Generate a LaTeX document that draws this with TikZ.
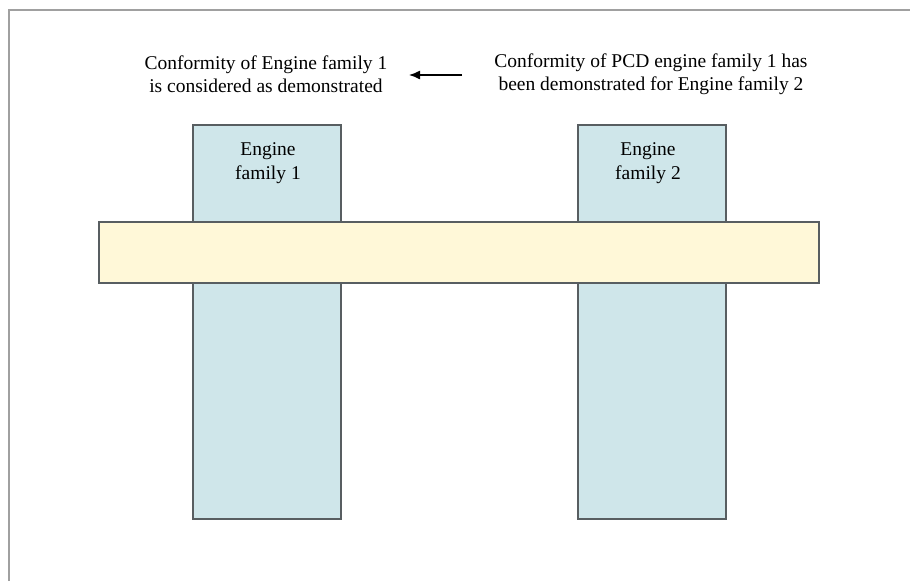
\documentclass[tikz,border=0pt]{standalone}
\usepackage{fontspec}
\setmainfont{Liberation Serif}
\usetikzlibrary{arrows.meta}
\definecolor{famblue}{RGB}{207,230,234}
\definecolor{baryellow}{RGB}{255,248,216}
\definecolor{edgegray}{RGB}{88,94,97}
\definecolor{framegray}{RGB}{160,160,160}
\begin{document}
\begin{tikzpicture}[x=1pt,y=-1pt,
  fambox/.style={draw=edgegray, line width=1.8pt, fill=famblue, anchor=north west, inner sep=0pt},
  barbox/.style={draw=edgegray, line width=1.8pt, fill=baryellow, anchor=north west, inner sep=0pt},
  txt/.style={font=\fontsize{19.5}{23.5}\selectfont, align=center, inner sep=0pt},
  arr/.style={-{Latex[length=11pt,width=9pt]}, line width=1.3pt, black}]
\useasboundingbox (0,0) rectangle (910,581);
\fill[white] (0,0) rectangle (910,581);
\draw[framegray, line width=2pt] (9,581) -- (9,10) -- (910,10);
\node[fambox, minimum width=148pt, minimum height=394pt] (f1) at (192,124) {};
\node[fambox, minimum width=148pt, minimum height=394pt] (f2) at (577,124) {};
\node[barbox, minimum width=720pt, minimum height=61pt] (bar) at (98,221) {};
\node[txt] (l1) at (268,163) {Engine\\family 1};
\node[txt] (l2) at (648,163) {Engine\\family 2};
\node[txt] (tl) at (266,74) {Conformity of Engine family 1\\is considered as demonstrated};
\node[txt] (tr) at (651,74) {Conformity of PCD engine family 1 has\\been demonstrated for Engine family 2};
\coordinate (as) at (462,75);
\coordinate (ae) at (409,75);
\draw[arr] (as) -- (ae);
\end{tikzpicture}
\end{document}
